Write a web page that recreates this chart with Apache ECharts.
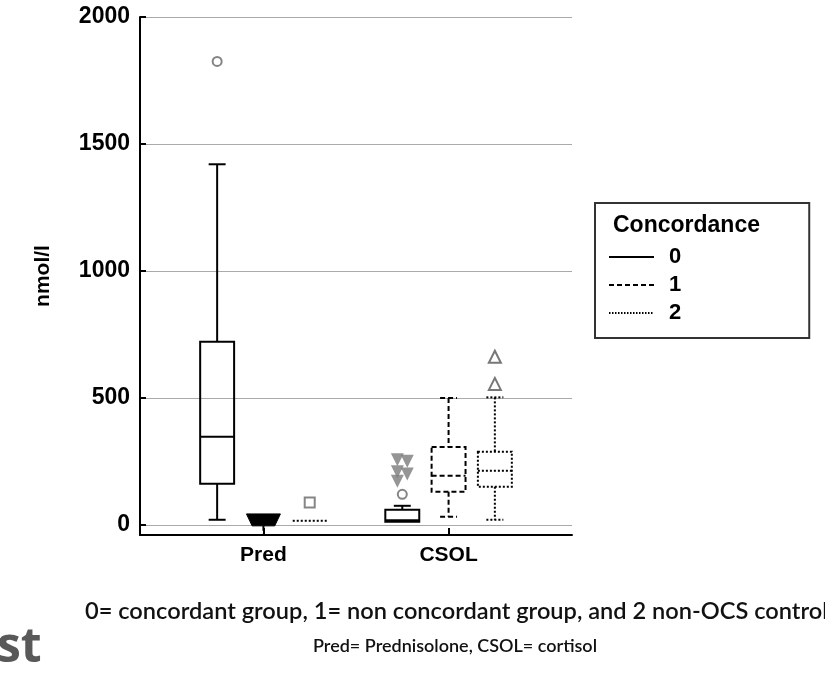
<!DOCTYPE html>
<html>
<head>
<meta charset="utf-8">
<script src="https://cdn.jsdelivr.net/npm/echarts@6/dist/echarts.min.js"></script>
<style>
html, body { margin: 0; padding: 0; background: #fff; }
#main { width: 825px; height: 673px; }
</style>
</head>
<body>
<div id="main"></div>
<script>
var categories = ['Pred', 'CSOL'];
var concordance = ['0', '1', '2'];
var yTicks = [0, 500, 1000, 1500, 2000];

// [low, Q1, median, Q3, high] for concordance 0, 1, 2
var predBoxes = [
    [20, 162, 347, 721, 1420],
    [-40, -4, 20, 43, 43],
    [16, 16, 16, 16, 16]
];
var csolBoxes = [
    [12, 12, 18, 59, 75],
    [32, 130, 193, 307, 500],
    [20, 150, 213, 288, 502]
];

// [category, concordance, value, kind]
var outliers = [
    [0, 0, 1825, 'circle'],
    [0, 2, 88, 'square'],
    [1, 0, 120, 'circle'],
    [1, 0, 256, 'extreme'],
    [1, 0, 250, 'extreme'],
    [1, 0, 209, 'extreme'],
    [1, 0, 200, 'extreme'],
    [1, 0, 172, 'extreme'],
    [1, 2, 662, 'triangle'],
    [1, 2, 555, 'triangle']
];

var allBoxes = [predBoxes, csolBoxes];
var dashes = [null, [5, 3], [2, 2]];
var lineTypes = ['solid', [5, 3], [1.5, 1.5]];
var boxShift = 0.75;
var boxWidth = 0.55;

function groupX(ci) {
    return 2 + 3 * ci;
}

function renderBox(k) {
    return function (params, api) {
        var ci = api.value(0);
        var x = groupX(ci) + (k - 1) * boxShift;
        var low = api.coord([x, api.value(1)]);
        var q1 = api.coord([x, api.value(2)]);
        var med = api.coord([x, api.value(3)]);
        var q3 = api.coord([x, api.value(4)]);
        var high = api.coord([x, api.value(5)]);
        var w = api.size([boxWidth, 0])[0];
        var cx = low[0];
        var filled = (ci === 0 && k === 1);
        var style = {
            stroke: '#000',
            lineWidth: 2,
            lineDash: dashes[k],
            fill: null
        };
        var children = [];
        if (high[1] < q3[1] - 1) {
            children.push({ type: 'line', shape: { x1: cx - w / 4, y1: high[1], x2: cx + w / 4, y2: high[1] }, style: style });
            children.push({ type: 'line', shape: { x1: cx, y1: high[1], x2: cx, y2: q3[1] }, style: style });
        }
        if (low[1] > q1[1] + 1) {
            children.push({ type: 'line', shape: { x1: cx, y1: q1[1], x2: cx, y2: low[1] }, style: style });
            if (!filled) {
                children.push({ type: 'line', shape: { x1: cx - w / 4, y1: low[1], x2: cx + w / 4, y2: low[1] }, style: style });
            }
        }
        if (filled) {
            children.push({
                type: 'polygon',
                shape: { points: [[cx - w / 2, q3[1]], [cx + w / 2, q3[1]], [cx + w / 3, q1[1]], [cx - w / 3, q1[1]]] },
                style: { fill: '#000', stroke: '#000', lineWidth: 1 }
            });
        } else if (q1[1] - q3[1] < 1) {
            children.push({ type: 'line', shape: { x1: cx - w / 2, y1: q1[1], x2: cx + w / 2, y2: q1[1] }, style: style });
        } else {
            children.push({ type: 'rect', shape: { x: cx - w / 2, y: q3[1], width: w, height: q1[1] - q3[1] }, style: style });
            children.push({ type: 'line', shape: { x1: cx - w / 2, y1: med[1], x2: cx + w / 2, y2: med[1] }, style: style });
        }
        return { type: 'group', children: children };
    };
}

var boxSeries = concordance.map(function (name, k) {
    return {
        type: 'custom',
        name: 'box' + name,
        renderItem: renderBox(k),
        encode: { x: -1, y: [1, 2, 3, 4, 5] },
        data: allBoxes.map(function (boxes, ci) {
            return [ci].concat(boxes[k]);
        }),
        z: 3
    };
});

var legendSeries = concordance.map(function (name, k) {
    return {
        type: 'line',
        name: name,
        data: [],
        symbol: 'none',
        color: '#000',
        lineStyle: { color: '#000', width: 2, type: lineTypes[k] }
    };
});

var extremeCount = 0;
var outlierData = outliers.map(function (o) {
    var x = groupX(o[0]) + (o[1] - 1) * boxShift;
    var item = { value: [x, o[2]] };
    if (o[3] === 'circle') {
        item.symbol = 'emptyCircle';
        item.symbolSize = 9;
        item.itemStyle = { color: '#666', borderColor: '#666', borderWidth: 1.5 };
    } else if (o[3] === 'square') {
        item.symbol = 'emptyRect';
        item.symbolSize = 10;
        item.itemStyle = { color: '#666', borderColor: '#666', borderWidth: 1.5 };
    } else if (o[3] === 'triangle') {
        item.symbol = 'emptyTriangle';
        item.symbolSize = 12;
        item.itemStyle = { color: '#555', borderColor: '#555', borderWidth: 1.5 };
    } else {
        item.value[0] += (extremeCount % 2 === 0 ? -0.08 : 0.08);
        extremeCount++;
        item.symbol = 'triangle';
        item.symbolRotate = 180;
        item.symbolSize = 13;
        item.itemStyle = { color: '#7a7a7a' };
    }
    return item;
});

var chart = echarts.init(document.getElementById('main'));
chart.setOption({
    animation: false,
    backgroundColor: '#fff',
    textStyle: { fontFamily: 'Liberation Sans' },
    grid: { left: 140, right: 253, top: 17, bottom: 138 },
    title: {
        text: 'Concordance',
        left: 613,
        top: 214,
        padding: 0,
        textStyle: { fontFamily: 'Liberation Sans', fontSize: 23, fontWeight: 'bold', color: '#000' }
    },
    legend: {
        data: concordance,
        left: 595,
        top: 203,
        orient: 'vertical',
        itemWidth: 45,
        itemHeight: 14,
        itemGap: 6,
        padding: [43, 128, 14, 13],
        borderColor: '#333',
        borderWidth: 2,
        selectedMode: false,
        itemStyle: { opacity: 0 },
        textStyle: { fontFamily: 'Liberation Sans', fontSize: 22, fontWeight: 'bold', color: '#000', padding: [0, 0, 0, 10] }
    },
    xAxis: {
        type: 'value',
        min: 0,
        max: 7,
        axisLine: { onZero: false, lineStyle: { color: '#000', width: 2 } },
        axisTick: { inside: true, length: 7, customValues: [groupX(0), groupX(1)], lineStyle: { color: '#000', width: 2 } },
        axisLabel: {
            customValues: [groupX(0), groupX(1)],
            formatter: function (v) { return categories[(v - 2) / 3]; },
            fontFamily: 'Liberation Sans',
            fontSize: 21,
            fontWeight: 'bold',
            color: '#000',
            margin: 10
        },
        splitLine: { show: false }
    },
    yAxis: {
        type: 'value',
        min: -40,
        max: 2000,
        name: 'nmol/l',
        nameLocation: 'middle',
        nameRotate: 90,
        nameGap: 86,
        nameTextStyle: { fontFamily: 'Liberation Sans', fontSize: 21, fontWeight: 'bold', color: '#000' },
        axisLine: { show: true, lineStyle: { color: '#000', width: 2 } },
        axisTick: { show: true, inside: true, length: 6, customValues: yTicks, lineStyle: { color: '#000', width: 2 } },
        axisLabel: {
            customValues: yTicks,
            formatter: function (v) { return String(v); },
            fontFamily: 'Liberation Sans',
            fontSize: 23,
            fontWeight: 'bold',
            color: '#000',
            margin: 10
        },
        splitLine: { show: true, lineStyle: { color: '#aaa', width: 1 } }
    },
    graphic: [
        {
            type: 'text',
            left: 85,
            top: 599,
            style: {
                text: '0= concordant group, 1= non concordant group, and 2 non-OCS control',
                font: '600 23.6px Lato',
                fill: '#111'
            }
        },
        {
            type: 'text',
            left: 313,
            top: 637,
            style: {
                text: 'Pred= Prednisolone, CSOL= cortisol',
                font: '600 18px Lato',
                fill: '#111'
            }
        },
        {
            type: 'text',
            left: -3,
            top: 624,
            style: {
                text: 'st',
                font: 'bold 48px "Open Sans"',
                fill: '#595959'
            }
        }
    ],
    series: boxSeries.concat(legendSeries).concat([{
        type: 'scatter',
        name: 'outliers',
        data: outlierData,
        z: 4
    }])
});
</script>
</body>
</html>
